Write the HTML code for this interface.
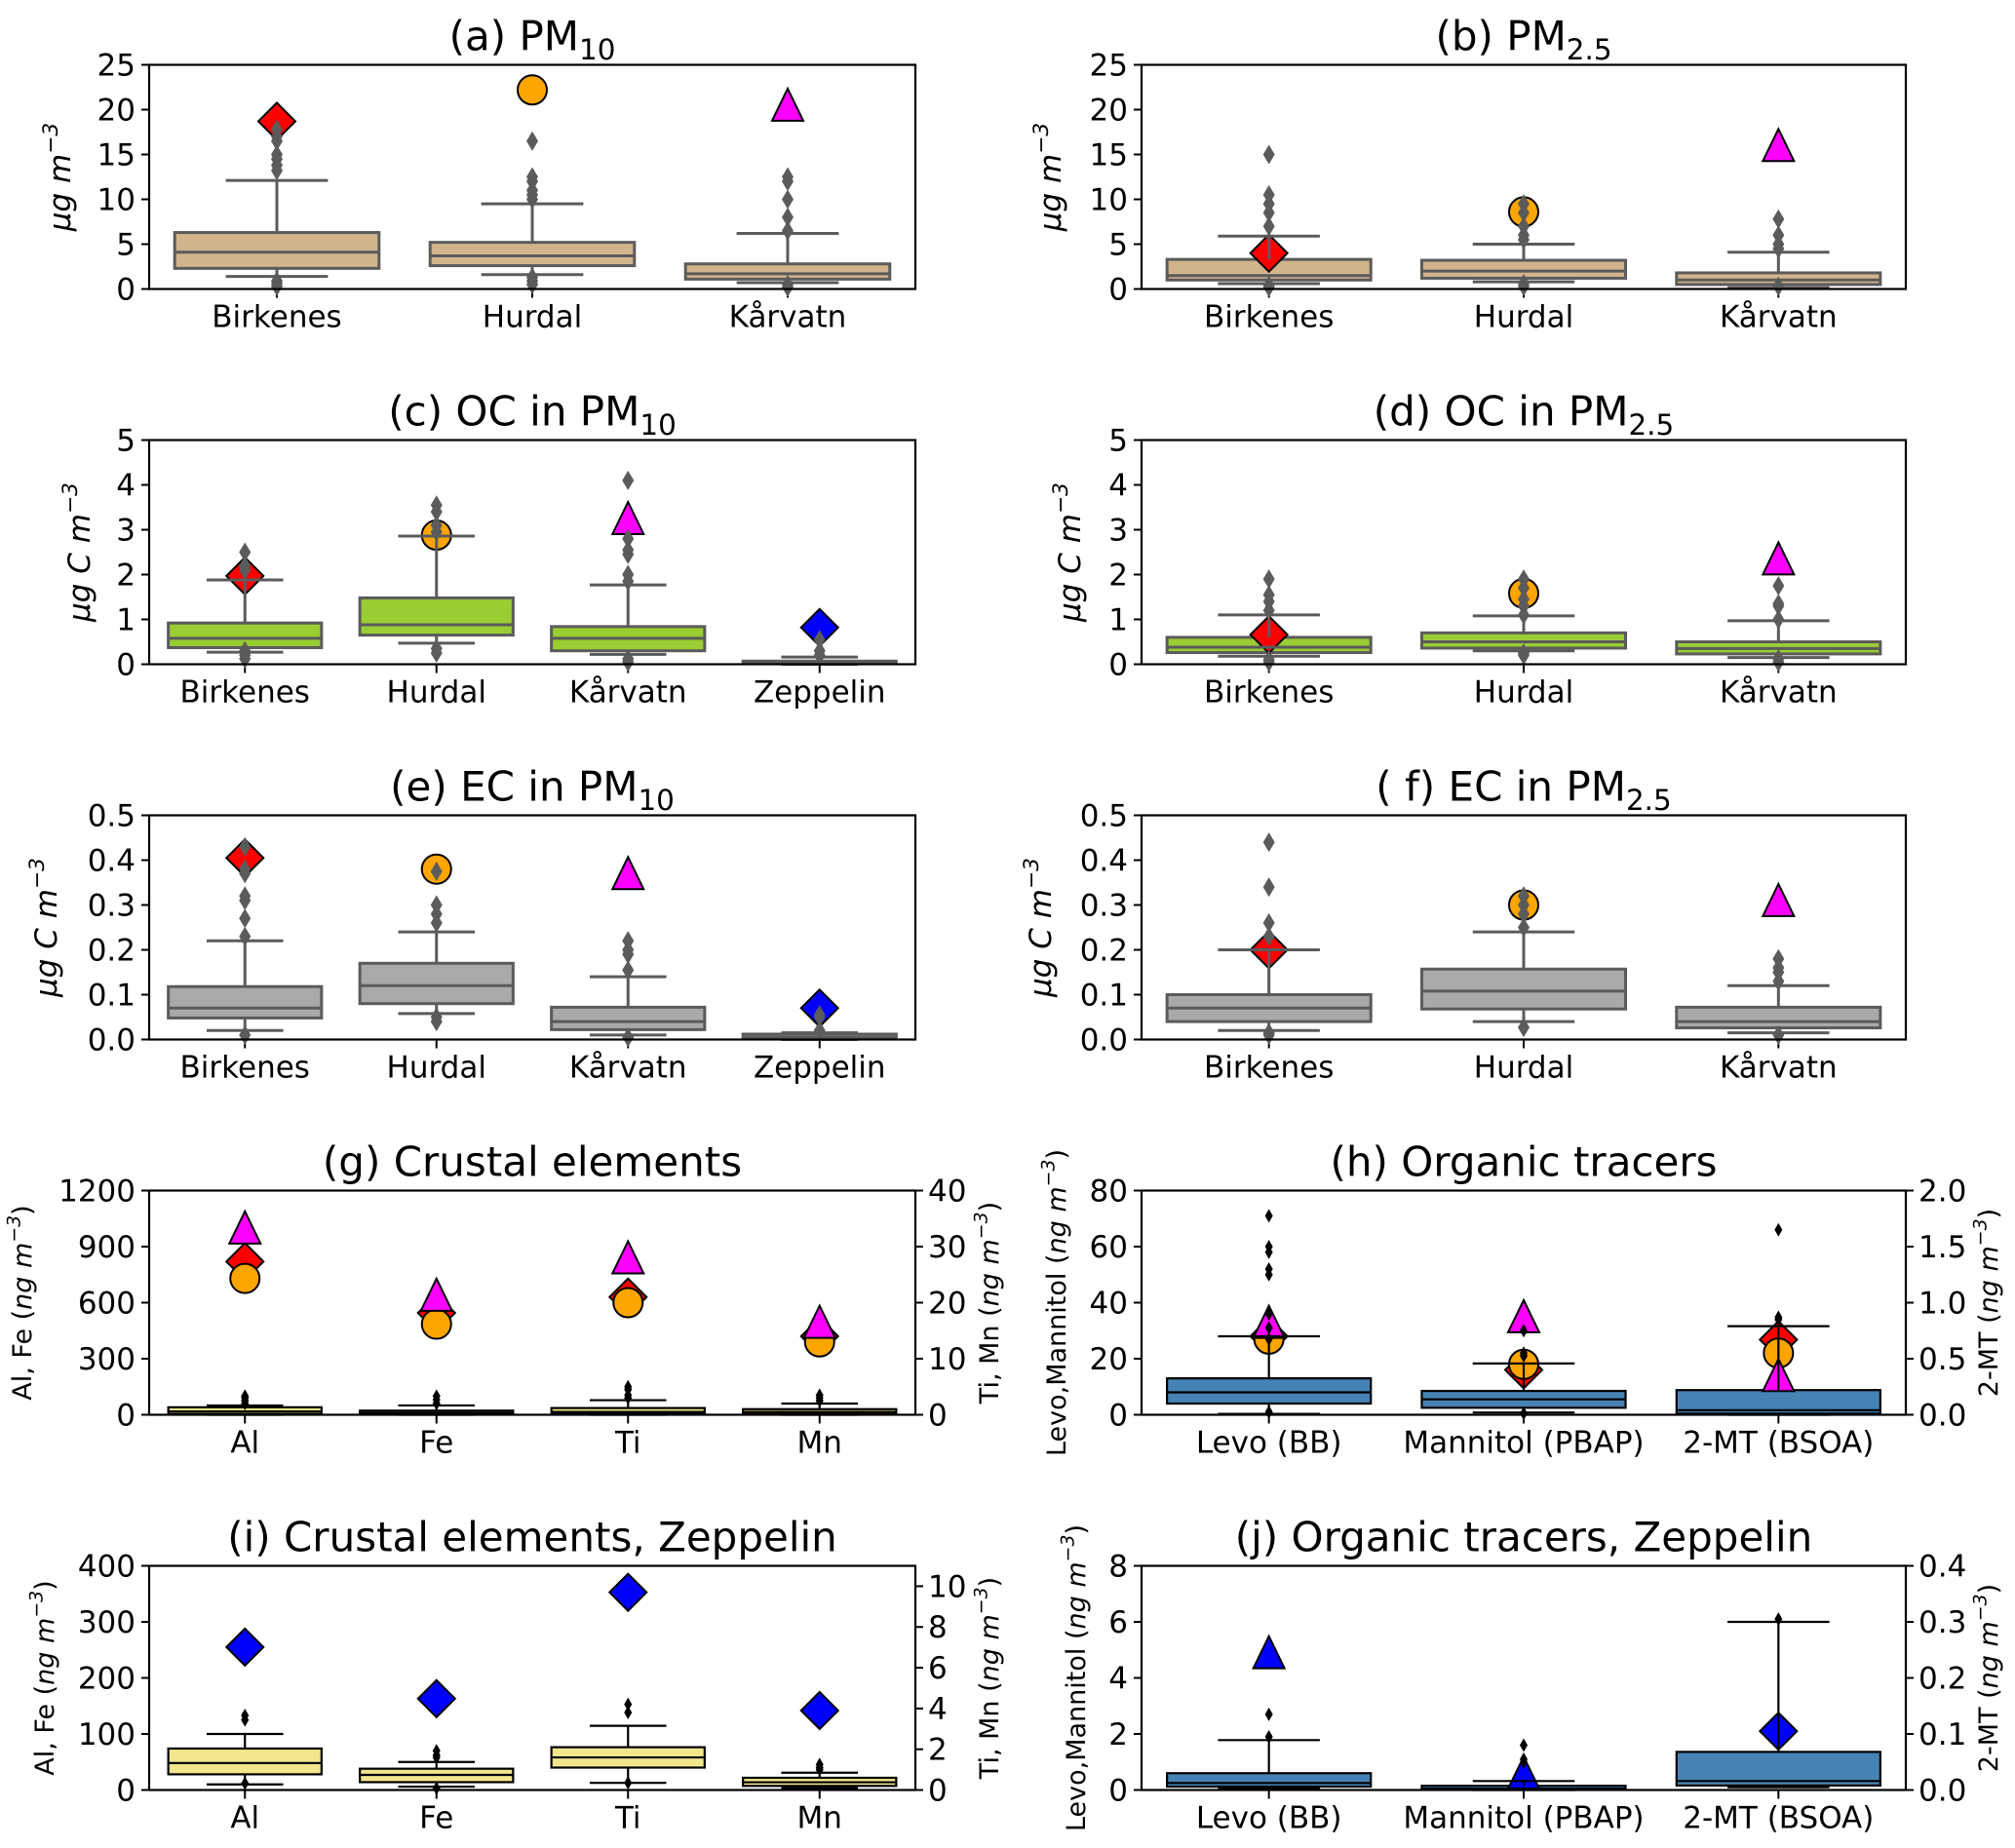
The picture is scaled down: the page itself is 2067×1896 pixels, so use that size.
<!DOCTYPE html>
<html><head><meta charset="utf-8"><style>
html,body{margin:0;padding:0;background:#fff;}
svg{display:block;}
text{font-family:"DejaVu Sans","Liberation Sans",sans-serif;fill:#000;}
</style></head><body>
<svg id="fig" width="2067" height="1896" viewBox="0 0 2067 1896" xmlns="http://www.w3.org/2000/svg">
<rect x="0" y="0" width="2067" height="1896" fill="#fff"></rect>
</svg>
<script>
// ---------- data ----------
const siteCats=['Birkenes','Hurdal','Kårvatn'];
const siteCats4=['Birkenes','Hurdal','Kårvatn','Zeppelin'];
const elemCats=['Al','Fe','Ti','Mn'];
const tracerCats=['Levo (BB)','Mannitol (PBAP)','2-MT (BSOA)'];

const aStats=[[1.4,2.3,4.1,6.3,12.1],[1.6,2.6,3.7,5.2,9.5],[0.7,1.1,1.7,2.8,6.2]];
const aFliers=[[0.3,0.6,0.9,13.2,13.8,14.5,15,16.5,17,17.8],[0.5,0.9,1.3,10,10.5,11,12,12.5,16.5],[0.2,0.5,6.5,8,10,12,12.5]];
const aMarks=[[['D',18.7]],[['o',22.2]],[['^',20.5]]];
const aTicks=[0,5,10,15,20,25];

const bStats=[[0.6,1.0,1.5,3.3,5.9],[0.8,1.2,2.0,3.2,5.0],[0.15,0.5,1.0,1.8,4.1]];
const bFliers=[[0.2,0.4,7,8.5,9.5,10.5,15],[0.3,0.6,5.5,6,7,8.5,9.5],[0.3,4.5,5,6,7.8]];
const bMarks=[[['D',4.0]],[['o',8.6]],[['^',16]]];
const bTicks=[0,5,10,15,20,25];

const cStats=[[0.27,0.37,0.58,0.92,1.88],[0.47,0.65,0.88,1.48,2.86],[0.22,0.3,0.58,0.84,1.77],[0.0,0.02,0.04,0.07,0.16]];
const cFliers=[[0.12,0.2,0.3,2.1,2.2,2.5],[0.25,0.35,2.95,3.1,3.4,3.55],[0.05,0.12,1.85,2.0,2.45,2.55,2.8,4.1],[0.2,0.3,0.55]];
const cMarks=[[['D',1.97]],[['o',2.88]],[['^',3.25]],[['B',0.82]]];
const cTicks=[0,1,2,3,4,5];

const dStats=[[0.18,0.26,0.38,0.6,1.1],[0.3,0.36,0.5,0.7,1.08],[0.15,0.23,0.35,0.5,0.97]];
const dFliers=[[0.05,0.1,1.2,1.4,1.55,1.9],[0.2,0.25,1.1,1.3,1.45,1.7,1.9],[0.05,0.12,1.0,1.3,1.35,1.75]];
const dMarks=[[['D',0.66]],[['o',1.58]],[['^',2.35]]];
const dTicks=[0,1,2,3,4,5];

const eStats=[[0.02,0.048,0.07,0.118,0.22],[0.058,0.08,0.12,0.17,0.24],[0.01,0.022,0.04,0.072,0.14],[0,0.002,0.005,0.012,0.015]];
const eFliers=[[0.01,0.23,0.27,0.31,0.32,0.37,0.38,0.43],[0.04,0.05,0.26,0.28,0.3,0.375],[0.005,0.155,0.19,0.2,0.22],[0.02,0.05,0.055]];
const eMarks=[[['D',0.405]],[['o',0.38]],[['^',0.37]],[['B',0.07]]];
const eTicks=[0,0.1,0.2,0.3,0.4,0.5];

const fStats=[[0.02,0.04,0.07,0.1,0.2],[0.04,0.068,0.108,0.157,0.24],[0.015,0.026,0.04,0.072,0.12]];
const fFliers=[[0.01,0.015,0.23,0.26,0.34,0.44],[0.027,0.25,0.28,0.3,0.32],[0.01,0.13,0.15,0.16,0.18]];
const fMarks=[[['D',0.2]],[['o',0.3]],[['^',0.31]]];
const fTicks=[0,0.1,0.2,0.3,0.4,0.5];

const gStats=[[0,5,18,40,50],[0,3,10,22,50],[0,0.2,0.5,1.2,2.6],[0,0.2,0.5,1.0,2.0]];
const gFliers=[[60,75,90,100],[60,80,100],[3,3.5,4.5,5],[2.5,3,3.5]];
const gMarks=[[['D',820],['o',730],['^',1000]],[['D',545],['o',485],['^',640]],[['D',21],['o',20],['^',28]],[['D',14],['o',13],['^',16.5]]];
const gAxis=[0,0,1,1];
const gTicks=[0,300,600,900,1200];
const gRTicks=[0,10,20,30,40];

const hStats=[[0.3,4,8,13,28],[0.8,2.5,5.5,8.5,18.3],[0,0.01,0.04,0.22,0.79]];
const hFliers=[[1,27,31,36,50,52,58,60,71],[0.5,21,22,30],[0.85,0.87,1.65]];
const hMarks=[[['D',28],['o',27],['^',33]],[['D',16],['o',18],['^',35]],[['D',0.67],['o',0.55],['^',0.35]]];
const hAxis=[0,0,1];
const hTicks=[0,20,40,60,80];
const hRTicks=[0,0.5,1.0,1.5,2.0];

const iStats=[[10,28,48,74,100],[6,14,27,38,50],[0.35,1.1,1.6,2.1,3.15],[0.1,0.2,0.38,0.6,0.85]];
const iFliers=[[12,125,133],[3,58,62,70],[0.35,3.8,4.2],[1.0,1.1,1.25]];
const iMarks=[[['B',255]],[['B',163]],[['B',9.7]],[['B',3.9]]];
const iAxis=[0,0,1,1];
const iTicks=[0,100,200,300,400];
const iRTicks=[0,2,4,6,8,10];

const jStats=[[0.05,0.12,0.25,0.6,1.78],[0,0.02,0.05,0.15,0.32],[0.005,0.008,0.016,0.068,0.3]];
const jFliers=[[1.9,2.7],[1.0,1.1,1.6],[0.305]];
const jMarks=[[['T',4.9]],[['T',0.6]],[['B',0.105]]];
const jAxis=[0,0,1];
const jTicks=[0,2,4,6,8];
const jRTicks=[0,0.1,0.2,0.3,0.4];

// ---------- drawing ----------
const NS='http://www.w3.org/2000/svg';
const svg=document.getElementById('fig');
function mk(tag,parent){const e=document.createElementNS(NS,tag);parent.appendChild(e);return e;}
function set(e,a){for(const k in a)e.setAttribute(k,a[k]);return e;}
const COL={D:'#ff0000',o:'#ffa500','^':'#ff00ff',B:'#0000ff',T:'#0000ff'};
const TF=31;

function richText(parent,x,y,parts,size,anchor,rot){
  const t=mk('text',parent);
  set(t,{x:0,y:0,'font-size':size,'text-anchor':anchor,transform:'translate('+x+','+y+')'+(rot?' rotate(-90)':'')});
  let shift=0;
  parts.forEach(p=>{
    const s=mk('tspan',t);
    s.textContent=p[0];
    const st=p[1]||'';
    let target=0;
    if(st.indexOf('sup')>=0){target=-size*0.42;set(s,{'font-size':size*0.7});}
    if(st.indexOf('sub')>=0){target=size*0.22;set(s,{'font-size':size*0.7});}
    if(st.indexOf('i')===0||st.indexOf('it')>=0)set(s,{'font-style':'italic'});
    set(s,{dy:target-shift});shift=target;
  });
  return t;
}

function fmt(v,dec){return v.toFixed(dec);}

function panel(P){
  const g=mk('g',svg);
  
  
  const x0=P.col?1171:153, x1=P.col?1955:939;
  const y0=66.5+385*P.row, h=230, y1=y0+h, w=x1-x0;
  const n=P.cats.length, cw=w/n, bw=cw*0.8;
  const yL=v=>y1-v/P.yMax*h;
  const yR=v=>y1-v/P.rMax*h;
  const yOf=(i,v)=>(P.axis&&P.axis[i]===1)?yR(v):yL(v);
  const cx=i=>x0+(i+0.5)*cw;
  const lc=P.line, lw=P.lw;
  const tt=richText(g,(x0+x1)/2,y0-15,P.title,42,'middle',false);
  
  
  P.ticks.forEach(v=>{
    const y=yL(v);
    const tk=mk('line',g);set(tk,{x1:x0-8,x2:x0,y1:y,y2:y,stroke:'#000','stroke-width':2});
    
    
    const tl=mk('text',g);set(tl,{x:x0-14,y:y+11,'font-size':TF,'text-anchor':'end'});tl.textContent=fmt(v,P.dec);
    
    
  });
  if(P.rTicks){
    P.rTicks.forEach(v=>{
      const y=yR(v);
      const tk=mk('line',g);set(tk,{x1:x1,x2:x1+8,y1:y,y2:y,stroke:'#000','stroke-width':2});
      
      
      const tl=mk('text',g);set(tl,{x:x1+13,y:y+11,'font-size':TF,'text-anchor':'start'});tl.textContent=fmt(v,P.rdec);
      
      
    });
    const rl=richText(g,P.rlx,(y0+y1)/2,P.rlabel,P.lsize,'middle',true);
    
    
  }
  const yl=richText(g,P.ylx,(y0+y1)/2,P.ylabel,P.lsize,'middle',true);
  
  
  P.cats.forEach((c,i)=>{
    const tk=mk('line',g);set(tk,{x1:cx(i),x2:cx(i),y1:y1,y2:y1+9,stroke:'#000','stroke-width':2});
    
    
    const tl=mk('text',g);set(tl,{x:cx(i),y:y1+39,'font-size':TF,'text-anchor':'middle'});tl.textContent=c;
    
    
  });
  P.stats.forEach((s,i)=>{
    const x=cx(i);
    const bx=mk('rect',g);
    set(bx,{x:x-bw/2,y:yOf(i,s[3]),width:bw,height:Math.max(yOf(i,s[1])-yOf(i,s[3]),0.5),fill:P.fill,stroke:lc,'stroke-width':lw});
    
    
  });
  P.marks.forEach((ms,i)=>{
    ms.forEach(m=>{
      const x=cx(i), y=yOf(i,m[1]), t=m[0];
      let e;
      if(t==='o'){e=mk('circle',g);set(e,{cx:x,cy:y,r:15});}
      else if(t==='^'||t==='T'){e=mk('polygon',g);set(e,{points:x+','+(y-17)+' '+(x-16)+','+(y+16)+' '+(x+16)+','+(y+16)});}
      else {e=mk('polygon',g);set(e,{points:x+','+(y-19)+' '+(x+19)+','+y+' '+x+','+(y+19)+' '+(x-19)+','+y});}
      set(e,{fill:COL[t],stroke:'#000','stroke-width':2});
      
      
    });
  });
  P.stats.forEach((s,i)=>{
    const x=cx(i);
    const wk=mk('path',g);
    const cap=bw*0.25;
    set(wk,{d:'M'+x+','+yOf(i,s[0])+'V'+yOf(i,s[1])+'M'+x+','+yOf(i,s[3])+'V'+yOf(i,s[4])+
      'M'+(x-cap)+','+yOf(i,s[0])+'H'+(x+cap)+'M'+(x-cap)+','+yOf(i,s[4])+'H'+(x+cap),stroke:lc,'stroke-width':lw,fill:'none'});
    
    
    const md=mk('line',g);
    set(md,{x1:x-bw/2,x2:x+bw/2,y1:yOf(i,s[2]),y2:yOf(i,s[2]),stroke:lc,'stroke-width':lw});
    
    
    P.fliers[i].forEach(v=>{
      const y=yOf(i,v), fw=P.fw, fh=P.fh;
      const f=mk('polygon',g);
      set(f,{points:x+','+(y-fh)+' '+(x+fw)+','+y+' '+x+','+(y+fh)+' '+(x-fw)+','+y,fill:lc});
      
      
    });
  });
  const fr=mk('rect',g);
  set(fr,{x:x0,y:y0,width:w,height:h,fill:'none',stroke:'#000','stroke-width':2.2});
  
  
}

const GR='#5b5b5b';
const ugm=[['μg m','i'],['−3','i sup']];
const ugcm=[['μg C m','i'],['−3','i sup']];
const ngl=pre=>[[pre+' ('],['ng m','i'],['−3','i sup'],[')']];

panel({name:'panel-a-pm10',col:0,row:0,title:[['(a) PM'],['10','sub']],cats:siteCats,stats:aStats,fliers:aFliers,marks:aMarks,yMax:25,ticks:aTicks,dec:0,fill:'#d2b48c',line:GR,lw:3,fw:6,fh:10,ylabel:ugm,ylx:72,lsize:31});
panel({name:'panel-b-pm25',col:1,row:0,title:[['(b) PM'],['2.5','sub']],cats:siteCats,stats:bStats,fliers:bFliers,marks:bMarks,yMax:25,ticks:bTicks,dec:0,fill:'#d2b48c',line:GR,lw:3,fw:6,fh:10,ylabel:ugm,ylx:1088,lsize:31});
panel({name:'panel-c-oc-pm10',col:0,row:1,title:[['(c) OC in PM'],['10','sub']],cats:siteCats4,stats:cStats,fliers:cFliers,marks:cMarks,yMax:5,ticks:cTicks,dec:0,fill:'#9acd32',line:GR,lw:3,fw:6,fh:10,ylabel:ugcm,ylx:92,lsize:31});
panel({name:'panel-d-oc-pm25',col:1,row:1,title:[['(d) OC in PM'],['2.5','sub']],cats:siteCats,stats:dStats,fliers:dFliers,marks:dMarks,yMax:5,ticks:dTicks,dec:0,fill:'#9acd32',line:GR,lw:3,fw:6,fh:10,ylabel:ugcm,ylx:1108,lsize:31});
panel({name:'panel-e-ec-pm10',col:0,row:2,title:[['(e) EC in PM'],['10','sub']],cats:siteCats4,stats:eStats,fliers:eFliers,marks:eMarks,yMax:0.5,ticks:eTicks,dec:1,fill:'#a9a9a9',line:GR,lw:3,fw:6,fh:10,ylabel:ugcm,ylx:58,lsize:31});
panel({name:'panel-f-ec-pm25',col:1,row:2,title:[['( f) EC in PM'],['2.5','sub']],cats:siteCats,stats:fStats,fliers:fFliers,marks:fMarks,yMax:0.5,ticks:fTicks,dec:1,fill:'#a9a9a9',line:GR,lw:3,fw:6,fh:10,ylabel:ugcm,ylx:1078,lsize:31});
panel({name:'panel-g-crustal',col:0,row:3,title:[['(g) Crustal elements']],cats:elemCats,stats:gStats,fliers:gFliers,marks:gMarks,axis:gAxis,yMax:1200,ticks:gTicks,dec:0,rMax:40,rTicks:gRTicks,rdec:0,fill:'#f0e68c',line:'#000',lw:2.2,fw:4,fh:7,ylabel:ngl('Al, Fe'),ylx:32,rlabel:ngl('Ti, Mn'),rlx:1024,lsize:27});
panel({name:'panel-h-organic-tracers',col:1,row:3,title:[['(h) Organic tracers']],cats:tracerCats,stats:hStats,fliers:hFliers,marks:hMarks,axis:hAxis,yMax:80,ticks:hTicks,dec:0,rMax:2,rTicks:hRTicks,rdec:1,fill:'#4682b4',line:'#000',lw:2.2,fw:4,fh:7,ylabel:ngl('Levo,Mannitol'),ylx:1093,rlabel:ngl('2-MT'),rlx:2049,lsize:27});
panel({name:'panel-i-crustal-zeppelin',col:0,row:4,title:[['(i) Crustal elements, Zeppelin']],cats:elemCats,stats:iStats,fliers:iFliers,marks:iMarks,axis:iAxis,yMax:400,ticks:iTicks,dec:0,rMax:11,rTicks:iRTicks,rdec:0,fill:'#f0e68c',line:'#000',lw:2.2,fw:4,fh:7,ylabel:ngl('Al, Fe'),ylx:55,rlabel:ngl('Ti, Mn'),rlx:1024,lsize:27});
panel({name:'panel-j-organic-tracers-zeppelin',col:1,row:4,title:[['(j) Organic tracers, Zeppelin']],cats:tracerCats,stats:jStats,fliers:jFliers,marks:jMarks,axis:jAxis,yMax:8,ticks:jTicks,dec:0,rMax:0.4,rTicks:jRTicks,rdec:1,fill:'#4682b4',line:'#000',lw:2.2,fw:4,fh:7,ylabel:ngl('Levo,Mannitol'),ylx:1113,rlabel:ngl('2-MT'),rlx:2049,lsize:27});
</script>
</body></html>
